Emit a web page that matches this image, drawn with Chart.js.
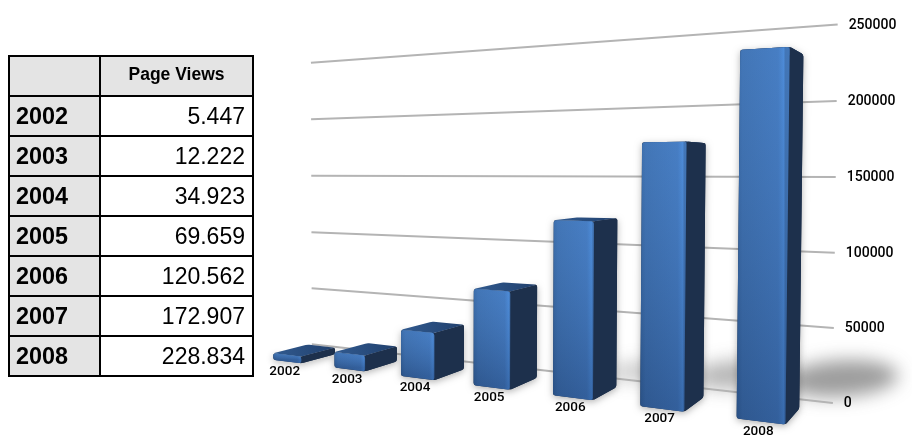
<!DOCTYPE html>
<html><head><meta charset="utf-8">
<title>Page Views</title>
<script src="https://cdn.jsdelivr.net/npm/chart.js@4"></script>
<style>
body{margin:0;background:#fff}
#wrap{position:relative;width:912px;height:446px;overflow:hidden}
canvas{position:absolute;left:0;top:0}
table{position:absolute;left:8px;top:55px;border-collapse:collapse;font-family:"Liberation Sans",Arial,sans-serif;color:#000;table-layout:fixed;width:246px}
td,th{border:2px solid #000;height:38px;padding:0;box-sizing:content-box}
th{background:#e4e4e4;font-size:17.5px;font-weight:bold;text-align:center;padding-bottom:4px;height:34px}
td{font-size:23px;text-align:right;padding-right:7px}
td.year{background:#e4e4e4;font-weight:bold;text-align:left;padding:0 0 0 6px;font-size:23.4px}
</style>
</head><body>
<div id="wrap">
<canvas id="chart" width="912" height="446"></canvas>
<table id="tbl"></table>
</div>
<script>
const years = ['2002', '2003', '2004', '2005', '2006', '2007', '2008'];
const pageViews = [5447, 12222, 34923, 69659, 120562, 172907, 228834];
const axisTicks = [0, 50000, 100000, 150000, 200000, 250000];
const seriesName = 'Page Views';

// table on the left
const tbl = document.getElementById('tbl');
let rows = '<colgroup><col style="width:91px"><col></colgroup><tr><th></th><th>' + seriesName + '</th></tr>';
years.forEach((y, i) => {
  rows += '<tr><td class="year">' + y + '</td><td>' + pageViews[i].toLocaleString('de-DE') + '</td></tr>';
});
tbl.innerHTML = rows;

const WALL = 1.6;
// camera matrix, fitted once against the picture
const cam = [48.440793, -3.855355, 49.811992, 287.203102, -6.910050, -310.018161, 8.297367, 361.576404, -0.040071, -0.009273, 0.049397];

// camera: slot index, value share of the axis, depth -> screen
function project(X, Y, Z) {
  const d = cam[8] * X + cam[9] * Y + cam[10] * Z + 1;
  return [(cam[0] * X + cam[1] * Y + cam[2] * Z + cam[3]) / d, (cam[4] * X + cam[5] * Y + cam[6] * Z + cam[7]) / d];
}

// polygon with slightly rounded corners
function poly(ctx, corners, r) {
  const m = corners.length;
  ctx.beginPath();
  for (let i = 0; i < m; i++) {
    const p = corners[i], a = corners[(i + m - 1) % m], b = corners[(i + 1) % m];
    const la = Math.hypot(a[0] - p[0], a[1] - p[1]) || 1, lb = Math.hypot(b[0] - p[0], b[1] - p[1]) || 1;
    const ra = Math.min(r, la / 2) / la, rb = Math.min(r, lb / 2) / lb;
    const s = [p[0] + (a[0] - p[0]) * ra, p[1] + (a[1] - p[1]) * ra];
    const e = [p[0] + (b[0] - p[0]) * rb, p[1] + (b[1] - p[1]) * rb];
    if (i === 0) ctx.moveTo(s[0], s[1]); else ctx.lineTo(s[0], s[1]);
    ctx.quadraticCurveTo(p[0], p[1], e[0], e[1]);
  }
  ctx.closePath();
}

const bars3d = {
  id: 'bars3d',
  beforeDatasetsDraw(chart) {
    const { ctx, chartArea: area, scales: { y } } = chart;
    const band = area.width / years.length;

    // soft floor shadows of the tall bars
    ctx.save();
    ctx.filter = 'blur(9px)';
    chart.getDatasetMeta(0).data.forEach((el, i) => {
      const share = (el.base - el.y) / area.height;
      if (share < 0.4) return;
      const h = el.width / band / 2;
      const br = project(i + h, 0, 1);
      ctx.fillStyle = 'rgba(60,60,60,' + (share * 0.55) + ')';
      ctx.beginPath();
      ctx.ellipse(br[0] + share * 46, br[1] - share * 33, share * 62, share * 20, -0.06, 0, Math.PI * 2);
      ctx.fill();
    });
    ctx.restore();

    // slanted grid lines on the back wall
    ctx.save();
    ctx.strokeStyle = '#b4b4b4';
    ctx.lineWidth = 2;
    y.ticks.forEach(t => {
      const share = (area.bottom - y.getPixelForValue(t.value)) / area.height;
      const a = project(-0.5, share, WALL), b = project(6.5, share, WALL);
      ctx.beginPath();
      ctx.moveTo(a[0], a[1]);
      ctx.lineTo(b[0], b[1]);
      ctx.stroke();
      ctx.fillStyle = '#000';
      ctx.font = '500 14px Roboto';
      ctx.textBaseline = 'middle';
      ctx.fillText(String(t.value), b[0] + 11, b[1] + 0.5);
    });
    ctx.restore();
  },
  afterDatasetsDraw(chart) {
    const { ctx, chartArea: area, scales: { x } } = chart;
    const band = area.width / years.length;

    chart.getDatasetMeta(0).data.forEach((el, i) => {
      const share = (el.base - el.y) / area.height;
      const h = el.width / band / 2;
      const X = (x.getPixelForValue(i) - area.left) / band - 0.5;
      const fl = project(X - h, 0, 0), fr = project(X + h, 0, 0), br = project(X + h, 0, 1);
      const tfl = project(X - h, share, 0), tfr = project(X + h, share, 0), tbr = project(X + h, share, 1), tbl = project(X - h, share, 1);

      ctx.save();
      // faint glow under the bar
      ctx.shadowColor = 'rgba(0,0,0,0.30)';
      ctx.shadowBlur = 7;
      ctx.shadowOffsetY = 2;
      ctx.fillStyle = '#1c2e4a';
      poly(ctx, [fl, fr, br, tbr, tfr, tfl], 2);
      ctx.fill();
      ctx.restore();

      // top
      const top = ctx.createLinearGradient(tfl[0], tfl[1], tbr[0], tbr[1]);
      top.addColorStop(0, '#315a8f');
      top.addColorStop(1, '#21406d');
      ctx.fillStyle = top;
      poly(ctx, [tfl, tfr, tbr, tbl], 2);
      ctx.fill();

      // side
      ctx.fillStyle = '#1d304c';
      poly(ctx, [fr, br, tbr, tfr], 2);
      ctx.fill();

      // front
      const g = ctx.createLinearGradient(fl[0], 0, fr[0], 0);
      g.addColorStop(0, '#32619b');
      g.addColorStop(0.12, '#3a6cab');
      g.addColorStop(0.85, '#3f75ba');
      g.addColorStop(0.96, '#4684d0');
      g.addColorStop(1, '#3a6cab');
      ctx.fillStyle = g;
      poly(ctx, [fl, fr, tfr, tfl], 2.5);
      ctx.fill();
      const v = ctx.createLinearGradient(0, tfl[1], 0, fl[1]);
      v.addColorStop(0, 'rgba(120,180,255,0.14)');
      v.addColorStop(1, 'rgba(10,20,50,0.22)');
      ctx.fillStyle = v;
      ctx.fill();

      // year under the bar
      const mid = project(X, 0, 0);
      ctx.fillStyle = '#000';
      ctx.font = '500 13.5px Roboto';
      ctx.textAlign = 'center';
      ctx.textBaseline = 'middle';
      ctx.fillText(years[i], mid[0] - 2.5, mid[1] + 10);
    });
  }
};

new Chart(document.getElementById('chart'), {
  type: 'bar',
  data: {
    labels: years,
    datasets: [{ label: seriesName, data: pageViews, backgroundColor: 'transparent', barPercentage: 0.47, categoryPercentage: 1 }]
  },
  options: {
    responsive: false,
    animation: false,
    layout: { padding: { left: 262, right: 74, top: 25, bottom: 44 } },
    plugins: { legend: { display: false }, tooltip: { enabled: false } },
    scales: {
      x: { ticks: { display: false }, grid: { display: false }, border: { display: false } },
      y: {
        position: 'right',
        min: 0,
        max: 250000,
        afterBuildTicks: axis => { axis.ticks = axisTicks.map(value => ({ value })); },
        ticks: { display: false },
        grid: { display: false },
        border: { display: false }
      }
    }
  },
  plugins: [bars3d]
});
</script>
</body></html>
